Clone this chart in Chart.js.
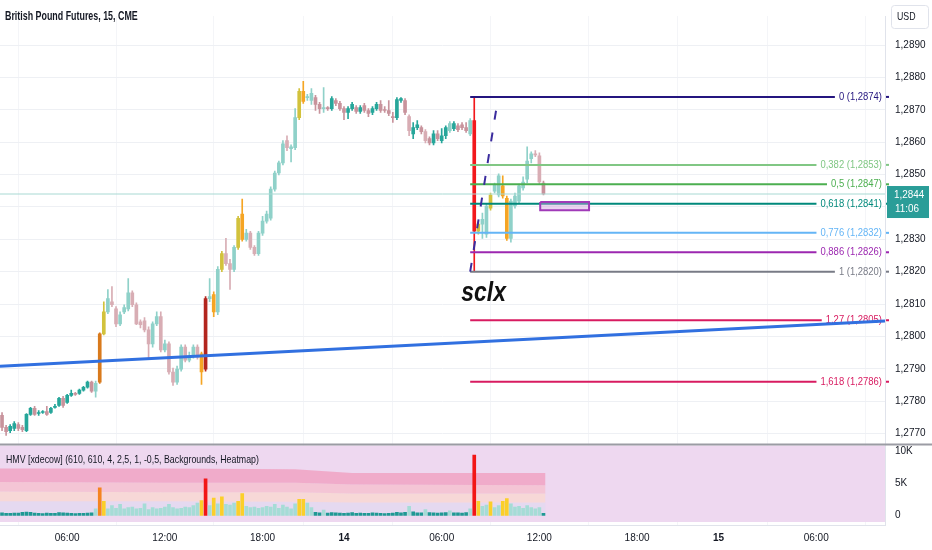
<!DOCTYPE html>
<html>
<head>
<meta charset="utf-8">
<title>British Pound Futures, 15, CME</title>
<script src="https://cdn.jsdelivr.net/npm/chart.js@4.4.1/dist/chart.umd.min.js"></script>
<style>
  html, body { margin: 0; padding: 0; background: #ffffff; }
  #wrap { width: 932px; height: 550px; }
</style>
</head>
<body>
<div id="wrap"><canvas id="chart" width="932" height="550"></canvas></div>
<script>
// 15-minute candles (bar 0 = 02:00 on the 13th)
const opens = [
  1.27756,1.27719,1.27709,1.27716,1.27728,1.27719,1.27709,1.27759,1.27778,1.27762,
  1.27765,1.27768,1.27765,1.27781,1.27787,1.27809,1.27796,1.27818,1.27824,1.27824,
  1.27834,1.27843,1.27859,1.27831,1.27859,1.28008,1.28076,1.28107,1.28085,1.28039,
  1.28076,1.28085,1.28135,1.28098,1.28045,1.28048,1.28020,1.27977,1.28039,1.28061,
  1.27958,1.27977,1.27890,1.27859,1.27899,1.27967,1.27927,1.27939,1.27967,1.27946,
  1.27899,1.28117,1.28129,1.28076,1.28207,1.28256,1.28225,1.28207,1.28275,1.28378,
  1.28300,1.28319,1.28275,1.28256,1.28319,1.28356,1.28365,1.28455,1.28505,1.28536,
  1.28605,1.28580,1.28583,1.28676,1.28757,1.28738,1.28729,1.28738,1.28717,1.28704,
  1.28707,1.28704,1.28729,1.28720,1.28704,1.28692,1.28704,1.28707,1.28695,1.28713,
  1.28698,1.28692,1.28704,1.28717,1.28701,1.28698,1.28679,1.28676,1.28729,1.28729,
  1.28679,1.28626,1.28645,1.28645,1.28633,1.28611,1.28598,1.28626,1.28605,1.28620,
  1.28636,1.28642,1.28651,1.28654,1.28645,1.28626,1.28667,1.28325,1.28347,1.28316,
  1.28396,1.28449,1.28437,1.28465,1.28427,1.28303,1.28403,1.28418,1.28459,1.28486,
  1.28549,1.28564,1.28558,1.28474
];
const highs = [
  1.27765,1.27725,1.27728,1.27737,1.27734,1.27725,1.27762,1.27781,1.27784,1.27771,
  1.27771,1.27784,1.27781,1.27790,1.27812,1.27815,1.27821,1.27834,1.27827,1.27837,
  1.27846,1.27862,1.27862,1.27862,1.28011,1.28107,1.28145,1.28154,1.28092,1.28076,
  1.28098,1.28179,1.28141,1.28104,1.28051,1.28058,1.28030,1.28045,1.28076,1.28076,
  1.27989,1.27983,1.27902,1.27908,1.27974,1.27974,1.27952,1.27974,1.27974,1.27952,
  1.28123,1.28179,1.28138,1.28216,1.28263,1.28303,1.28238,1.28281,1.28371,1.28424,
  1.28331,1.28325,1.28281,1.28325,1.28371,1.28387,1.28462,1.28511,1.28542,1.28605,
  1.28620,1.28592,1.28704,1.28766,1.28788,1.28748,1.28766,1.28745,1.28723,1.28769,
  1.28710,1.28741,1.28735,1.28726,1.28710,1.28710,1.28723,1.28713,1.28713,1.28720,
  1.28704,1.28710,1.28723,1.28729,1.28710,1.28729,1.28692,1.28738,1.28738,1.28735,
  1.28685,1.28661,1.28667,1.28651,1.28639,1.28617,1.28636,1.28636,1.28642,1.28651,
  1.28664,1.28664,1.28658,1.28661,1.28661,1.28673,1.28740,1.28356,1.28381,1.28409,
  1.28443,1.28474,1.28502,1.28496,1.28434,1.28424,1.28443,1.28471,1.28493,1.28586,
  1.28570,1.28574,1.28567,1.28480
];
const lows = [
  1.27709,1.27694,1.27703,1.27709,1.27709,1.27706,1.27706,1.27756,1.27756,1.27756,
  1.27762,1.27756,1.27762,1.27778,1.27784,1.27781,1.27793,1.27815,1.27818,1.27821,
  1.27831,1.27840,1.27827,1.27812,1.27855,1.28005,1.28070,1.28092,1.28030,1.28033,
  1.28070,1.28079,1.28092,1.28036,1.28026,1.28014,1.27933,1.27967,1.28033,1.27952,
  1.27952,1.27883,1.27849,1.27852,1.27893,1.27921,1.27921,1.27933,1.27930,1.27852,
  1.27893,1.28107,1.28061,1.28067,1.28200,1.28219,1.28145,1.28200,1.28269,1.28294,
  1.28294,1.28269,1.28250,1.28250,1.28312,1.28350,1.28359,1.28449,1.28499,1.28530,
  1.28574,1.28539,1.28577,1.28670,1.28720,1.28729,1.28717,1.28698,1.28689,1.28692,
  1.28698,1.28698,1.28713,1.28698,1.28670,1.28673,1.28698,1.28689,1.28689,1.28692,
  1.28679,1.28685,1.28698,1.28692,1.28692,1.28682,1.28661,1.28670,1.28723,1.28685,
  1.28620,1.28611,1.28639,1.28626,1.28598,1.28592,1.28592,1.28605,1.28598,1.28611,
  1.28630,1.28636,1.28633,1.28639,1.28630,1.28620,1.28200,1.28316,1.28303,1.28306,
  1.28390,1.28443,1.28431,1.28427,1.28297,1.28291,1.28396,1.28412,1.28452,1.28474,
  1.28536,1.28555,1.28471,1.28437
];
const closes = [
  1.27719,1.27706,1.27722,1.27731,1.27716,1.27712,1.27759,1.27778,1.27759,1.27765,
  1.27768,1.27759,1.27778,1.27784,1.27809,1.27787,1.27818,1.27824,1.27821,1.27834,
  1.27843,1.27859,1.27831,1.27855,1.28008,1.28076,1.28117,1.28098,1.28039,1.28067,
  1.28089,1.28135,1.28098,1.28039,1.28036,1.28020,1.27977,1.28039,1.28061,1.27958,
  1.27977,1.27890,1.27859,1.27899,1.27967,1.27927,1.27939,1.27967,1.27936,1.27890,
  1.28117,1.28123,1.28076,1.28207,1.28256,1.28225,1.28207,1.28275,1.28365,1.28300,
  1.28319,1.28275,1.28256,1.28319,1.28356,1.28378,1.28455,1.28505,1.28536,1.28595,
  1.28583,1.28586,1.28676,1.28757,1.28726,1.28741,1.28751,1.28717,1.28704,1.28707,
  1.28704,1.28735,1.28720,1.28704,1.28692,1.28704,1.28717,1.28695,1.28707,1.28698,
  1.28689,1.28704,1.28717,1.28698,1.28698,1.28689,1.28676,1.28732,1.28735,1.28692,
  1.28636,1.28645,1.28654,1.28633,1.28605,1.28598,1.28626,1.28611,1.28620,1.28645,
  1.28658,1.28658,1.28639,1.28645,1.28636,1.28667,1.28325,1.28347,1.28362,1.28403,
  1.28437,1.28468,1.28496,1.28434,1.28303,1.28418,1.28434,1.28465,1.28477,1.28542,
  1.28564,1.28561,1.28477,1.28440
];
const volumes = [
  380,320,300,340,360,480,520,450,330,300,
  280,350,320,300,420,380,350,300,280,320,
  300,340,380,1000,4300,2200,1000,1500,1100,1700,
  1000,1200,1300,1000,1100,1800,900,1200,1000,1100,
  1300,1700,1200,1000,1100,1300,1200,1500,1900,2300,
  5700,1500,2700,1800,2900,1700,1600,1900,2200,3400,
  1400,1200,1300,1100,1200,1400,1300,1700,1100,1600,
  1300,1000,1800,2500,2500,1900,1200,450,400,800,
  350,420,380,330,300,360,420,300,350,320,
  300,380,340,300,280,320,360,450,400,480,
  1400,550,400,380,900,420,380,350,400,420,
  700,380,400,350,420,1000,9400,2200,1400,1600,
  2100,1200,1500,2200,2600,1800,1300,1400,1100,1500,
  1200,1000,1200,300
];

// heatmap volume threshold backgrounds
const bandBars = [-0.5, 40, 72, 86, 133.5];
const bandExtraTop = [7300, 7300, 7200, 6600, 6600];
const bandHighTop = [5200, 5100, 5100, 4800, 4700];
const bandMediumTop = [3700, 3600, 3600, 3400, 3400];
const bandNormalTop = [2200, 2200, 2100, 2000, 2000];
const volThresholds = [600, 2000, 3500, 5000];

// time axis
const tickBars = [16, 40, 64, 84, 108, 132, 156, 176, 200];
const tickLabels = ['06:00', '12:00', '18:00', '14', '06:00', '12:00', '18:00', '15', '06:00'];

// drawings
const fibRatios = [0, 0.382, 0.5, 0.618, 0.776, 0.886, 1, 1.27, 1.618];
const fibPrices = [1.2874, 1.2853, 1.2847, 1.2841, 1.2832, 1.2826, 1.2820, 1.2805, 1.2786];
const fibBars = [115, 215.7];
const fibTrendBars = [115, 121.7];
const fibTrendPrices = [1.2820, 1.28725];
const trendBars = [-0.5, 216.9];
const trendPrices = [1.27908, 1.28048];
const boxBars = [132.2, 144.2];
const boxPrices = [1.28415, 1.28390];
const noteText = 'sclx';
const noteBar = 112.8;
const notePrice = 1.28110;

// styles
const FONT = '"Liberation Sans", Arial, sans-serif';
const SQUEEZE = 0.8;
const fibColors = ['#24157f', '#81c784', '#4caf50', '#00897b', '#64b5f6', '#9c27b0', '#787b86', '#d81b60', '#d81b60'];
const candleUp = ['#26a69a', '#8fd1c9', '#d2c23c', '#d97a1c', '#b3261e'];
const candleDown = ['#c8939c', '#d8adb4', '#f5a524', '#ef6c00', '#f2181c'];
const volColors = ['#1f9994', '#a5dcd6', '#fbcf2a', '#f5841f', '#f21616'];

const fmtPrice = v => v.toFixed(4).replace('.', ',');
const volLevel = v => volThresholds.filter(t => v >= t).length;
const idx = opens.map((_, i) => i);
const candleColors = idx.map(i => (closes[i] >= opens[i] ? candleUp : candleDown)[volLevel(volumes[i])]);
const lastPrice = closes[closes.length - 1];

const band = (tops, color, fill) => ({
  type: 'line', yAxisID: 'yv', order: 10, fill: fill,
  data: bandBars.map((b, k) => ({ x: b, y: tops[k] })),
  borderWidth: 0, pointRadius: 0, backgroundColor: color
});

const flat = (bars, price, color, width, order) => ({
  type: 'line', yAxisID: 'y', order: order,
  data: bars.map(b => ({ x: b, y: price })),
  borderColor: color, borderWidth: width, pointRadius: 0, fill: false
});

const fibSets = fibPrices.map((p, k) => {
  const d = flat(fibBars, p, fibColors[k], 2, 4);
  if (k === 0) d.fibLabels = true;
  return d;
});

// text drawn a little condensed, like the narrow UI font of the original
function narrowText(ctx, txt, x, y, squeeze) {
  ctx.save();
  ctx.translate(x, y);
  ctx.scale(squeeze, 1);
  ctx.fillText(txt, 0, 0);
  ctx.restore();
}

function drawFibLabels(chart) {
  const { ctx, chartArea } = chart;
  const y = chart.scales.y;
  ctx.save();
  ctx.font = '11px ' + FONT;
  ctx.textAlign = 'right';
  ctx.textBaseline = 'middle';
  fibRatios.forEach((r, k) => {
    const py = y.getPixelForValue(fibPrices[k]);
    const txt = String(r).replace('.', ',') + ' (' + fmtPrice(fibPrices[k]) + ')';
    const w = ctx.measureText(txt).width * 0.86;
    const tx = chartArea.right - 3;
    ctx.fillStyle = '#ffffff';
    ctx.fillRect(tx - w - 4, py - 2, w + 7, 4);
    ctx.fillStyle = fibColors[k];
    narrowText(ctx, txt, tx, py, 0.86);
    ctx.fillRect(chartArea.right + 1, py - 1, 3, 2);
  });
  ctx.restore();
}

const overlay = {
  id: 'overlay',
  beforeDatasetsDraw(chart) {
    const { ctx, chartArea } = chart;
    const y = chart.scales.y, yv = chart.scales.yv;
    ctx.save();
    ctx.fillStyle = '#eed8f0';
    ctx.fillRect(chartArea.left, y.bottom, chartArea.right - chartArea.left, yv.bottom - y.bottom - 3);
    ctx.restore();
  },
  afterDatasetDraw(chart, args) {
    if (chart.data.datasets[args.index].fibLabels) drawFibLabels(chart);
  },
  afterDraw(chart) {
    const { ctx, chartArea } = chart;
    const x = chart.scales.x, y = chart.scales.y;
    ctx.save();
    // pane separator
    ctx.fillStyle = '#9b9ca4';
    ctx.fillRect(0, y.bottom - 2, chart.width, 2);
    // titles
    ctx.fillStyle = '#131722';
    ctx.textBaseline = 'middle';
    ctx.textAlign = 'left';
    ctx.font = 'bold 12px ' + FONT;
    narrowText(ctx, 'British Pound Futures, 15, CME', 5, 17, 0.74);
    ctx.font = '11px ' + FONT;
    narrowText(ctx, 'HMV [xdecow] (610, 610, 4, 2,5, 1, -0,5, Backgrounds, Heatmap)', 6, 460, SQUEEZE);
    // note
    ctx.font = 'italic bold 28px ' + FONT;
    ctx.textBaseline = 'alphabetic';
    ctx.fillStyle = '#111111';
    narrowText(ctx, noteText, x.getPixelForValue(noteBar), y.getPixelForValue(notePrice), 0.82);
    // USD box
    ctx.fillStyle = '#ffffff';
    ctx.strokeStyle = '#e0e3eb';
    ctx.lineWidth = 1;
    ctx.beginPath();
    ctx.roundRect(chartArea.right + 6.5, 5.5, 37, 23, 3);
    ctx.fill();
    ctx.stroke();
    ctx.fillStyle = '#131722';
    ctx.font = '11px ' + FONT;
    ctx.textBaseline = 'middle';
    narrowText(ctx, 'USD', chartArea.right + 12, 17, SQUEEZE);
    // last price tag
    const py = y.getPixelForValue(lastPrice);
    ctx.fillStyle = '#2a9d98';
    ctx.fillRect(chartArea.right + 2, py - 8, 42, 32);
    ctx.fillStyle = '#ffffff';
    narrowText(ctx, fmtPrice(lastPrice), chartArea.right + 9, py + 1, 0.9);
    narrowText(ctx, '11:06', chartArea.right + 10, py + 15, 0.9);
    ctx.restore();
  }
};

new Chart(document.getElementById('chart'), {
  type: 'bar',
  data: {
    datasets: [
      { ...flat(trendBars, 0, '#3170e0', 3, 1), data: trendBars.map((b, k) => ({ x: b, y: trendPrices[k] })) },
      { type: 'line', yAxisID: 'y', order: 2, data: fibTrendBars.map((b, k) => ({ x: b, y: fibTrendPrices[k] })),
        borderColor: '#3b2c9e', borderWidth: 2, borderDash: [9, 13], pointRadius: 0, fill: false },
      { type: 'line', yAxisID: 'y', order: 2,
        data: [{ x: boxBars[0], y: boxPrices[0] }, { x: boxBars[1], y: boxPrices[0] }, { x: boxBars[1], y: boxPrices[1] },
               { x: boxBars[0], y: boxPrices[1] }, { x: boxBars[0], y: boxPrices[0] }],
        borderColor: '#a03ab8', borderWidth: 2, pointRadius: 0, fill: false },
      { ...flat(boxBars, boxPrices[0], 'rgba(0,0,0,0)', 0, 3), fill: '+1', backgroundColor: 'rgba(206,160,220,0.45)' },
      flat(boxBars, boxPrices[1], 'rgba(0,0,0,0)', 0, 3),
      ...fibSets,
      flat([-0.5, 216.9], lastPrice, '#a8d9d3', 1, 5),
      { type: 'bar', yAxisID: 'y', order: 6, grouped: false, barThickness: 3, minBarLength: 1,
        data: idx.map(i => ({ x: i, y: [opens[i], closes[i]] })), backgroundColor: candleColors },
      { type: 'bar', yAxisID: 'y', order: 7, grouped: false, barThickness: 1,
        data: idx.map(i => ({ x: i, y: [lows[i], highs[i]] })), backgroundColor: candleColors },
      { type: 'bar', yAxisID: 'yv', order: 8, grouped: false, barThickness: 3,
        data: idx.map(i => ({ x: i, y: volumes[i] })), backgroundColor: idx.map(i => volColors[volLevel(volumes[i])]) },
      band(bandExtraTop, 'rgba(240,160,192,0.8)', '+1'),
      band(bandHighTop, 'rgba(245,192,206,0.8)', '+1'),
      band(bandMediumTop, 'rgba(248,216,210,0.85)', '+1'),
      band(bandNormalTop, 'rgba(226,218,240,0.8)', 'origin')
    ]
  },
  options: {
    responsive: false,
    animation: false,
    layout: { padding: 0 },
    plugins: { legend: { display: false }, tooltip: { enabled: false } },
    scales: {
      x: {
        type: 'linear', min: -0.5, max: 216.9, offset: false,
        afterBuildTicks: s => { s.ticks = tickBars.map(v => ({ value: v })); },
        afterFit: s => { s.height = 25; },
        ticks: {
          autoSkip: false, maxRotation: 0, padding: 7, color: '#131722',
          font: c => ({ family: FONT, size: 10, weight: (tickLabels[c.index] || '').length === 2 ? 'bold' : 'normal' }),
          callback: (v, i) => tickLabels[i]
        },
        grid: { color: '#f4f5f8', drawTicks: false },
        border: { color: '#e0e3eb' }
      },
      y: {
        type: 'linear', position: 'right', stack: 'panes', stackWeight: 443,
        min: 1.27663, max: 1.28990,
        afterFit: s => { s.width = 47; },
        ticks: { stepSize: 0.001, includeBounds: false, padding: 10, color: '#131722',
          font: { family: FONT, size: 10 }, callback: v => fmtPrice(v) },
        grid: { color: '#eef0f4', drawTicks: false },
        border: { color: '#e0e3eb' }
      },
      yv: {
        type: 'linear', position: 'right', stack: 'panes', stackWeight: 82,
        min: -1515, max: 10900,
        afterFit: s => { s.width = 47; },
        afterBuildTicks: s => { s.ticks = [0, 5000, 10000].map(v => ({ value: v })); },
        ticks: { padding: 10, color: '#131722', font: { family: FONT, size: 10 },
          callback: v => (v === 0 ? '0' : v / 1000 + 'K') },
        grid: { display: false, drawTicks: false },
        border: { color: '#e0e3eb' }
      }
    }
  },
  plugins: [overlay]
});
</script>
</body>
</html>
